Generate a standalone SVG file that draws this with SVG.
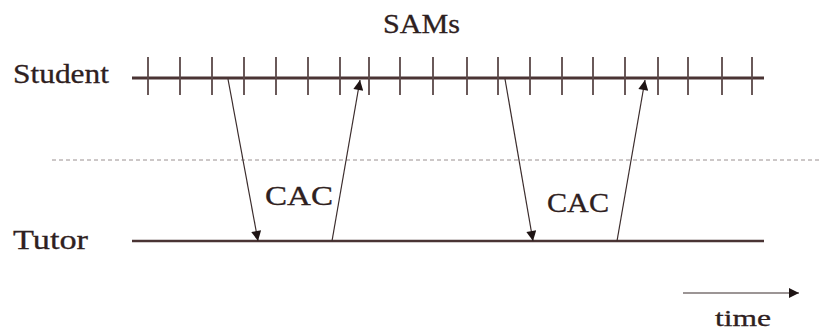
<svg xmlns="http://www.w3.org/2000/svg" width="819" height="334" viewBox="0 0 819 334">
  <defs>
    <style>
      .lbl { font-family: "Liberation Serif", "DejaVu Serif", serif; fill: #2e2020; stroke: #2e2020; stroke-width: 0.3; }
      .axis { stroke: #4a3434; fill: none; }
      .tick { stroke: #5a4848; stroke-width: 1.8; }
      .msg { stroke: #3b2c2c; stroke-width: 1.2; fill: none; }
      .dash { stroke: #9a9090; stroke-width: 1; stroke-dasharray: 4 3; fill: none; }
    </style>
    <marker id="ah" viewBox="0 0 10 10" refX="10" refY="5" markerWidth="11" markerHeight="10" markerUnits="userSpaceOnUse" orient="auto">
      <path d="M0,0 L10,5 L0,10 z" fill="#1e1414"/>
    </marker>
  </defs>
  <rect width="819" height="334" fill="#ffffff"/>

  <g id="title">
    <text class="lbl" x="383" y="33" font-size="27" textLength="77" lengthAdjust="spacingAndGlyphs">SAMs</text>
  </g>

  <g id="student">
    <text class="lbl" x="13" y="83" font-size="28" textLength="96" lengthAdjust="spacingAndGlyphs">Student</text>
    <line class="axis" x1="132" y1="78" x2="764" y2="78" stroke-width="3"/>
    <g class="ticks">
      <line class="tick" x1="148" y1="57" x2="148" y2="95"/>
      <line class="tick" x1="180" y1="57" x2="180" y2="95"/>
      <line class="tick" x1="212" y1="57" x2="212" y2="95"/>
      <line class="tick" x1="244" y1="57" x2="244" y2="95"/>
      <line class="tick" x1="276" y1="57" x2="276" y2="95"/>
      <line class="tick" x1="308" y1="57" x2="308" y2="95"/>
      <line class="tick" x1="340" y1="57" x2="340" y2="95"/>
      <line class="tick" x1="369" y1="57" x2="369" y2="95"/>
      <line class="tick" x1="400" y1="57" x2="400" y2="95"/>
      <line class="tick" x1="433" y1="57" x2="433" y2="95"/>
      <line class="tick" x1="467" y1="57" x2="467" y2="95"/>
      <line class="tick" x1="498" y1="57" x2="498" y2="95"/>
      <line class="tick" x1="530" y1="57" x2="530" y2="95"/>
      <line class="tick" x1="562" y1="57" x2="562" y2="95"/>
      <line class="tick" x1="593" y1="57" x2="593" y2="95"/>
      <line class="tick" x1="625" y1="57" x2="625" y2="95"/>
      <line class="tick" x1="658" y1="57" x2="658" y2="95"/>
      <line class="tick" x1="688" y1="57" x2="688" y2="95"/>
      <line class="tick" x1="722" y1="57" x2="722" y2="95"/>
      <line class="tick" x1="752" y1="57" x2="752" y2="95"/>
    </g>
  </g>

  <g id="divider">
    <line class="dash" x1="52" y1="160" x2="819" y2="160"/>
  </g>

  <g id="tutor">
    <text class="lbl" x="13" y="249" font-size="28" textLength="75" lengthAdjust="spacingAndGlyphs">Tutor</text>
    <line class="axis" x1="132" y1="241" x2="764" y2="241" stroke-width="2.6"/>
  </g>

  <g id="connectors">
    <line class="msg" x1="228" y1="79" x2="258" y2="241" marker-end="url(#ah)"/>
    <line class="msg" x1="332" y1="241" x2="360" y2="80" marker-end="url(#ah)"/>
    <line class="msg" x1="505" y1="79" x2="533" y2="241" marker-end="url(#ah)"/>
    <line class="msg" x1="617" y1="241" x2="645" y2="80" marker-end="url(#ah)"/>
    <line class="msg" x1="683" y1="293" x2="799" y2="293" marker-end="url(#ah)"/>
  </g>

  <g id="cac1">
    <text class="lbl" x="265" y="205" font-size="27" textLength="68" lengthAdjust="spacingAndGlyphs">CAC</text>
  </g>
  <g id="cac2">
    <text class="lbl" x="547" y="212" font-size="27" textLength="62" lengthAdjust="spacingAndGlyphs">CAC</text>
  </g>
  <g id="time">
    <text class="lbl" x="715" y="326" font-size="24" textLength="56" lengthAdjust="spacingAndGlyphs">time</text>
  </g>
</svg>
